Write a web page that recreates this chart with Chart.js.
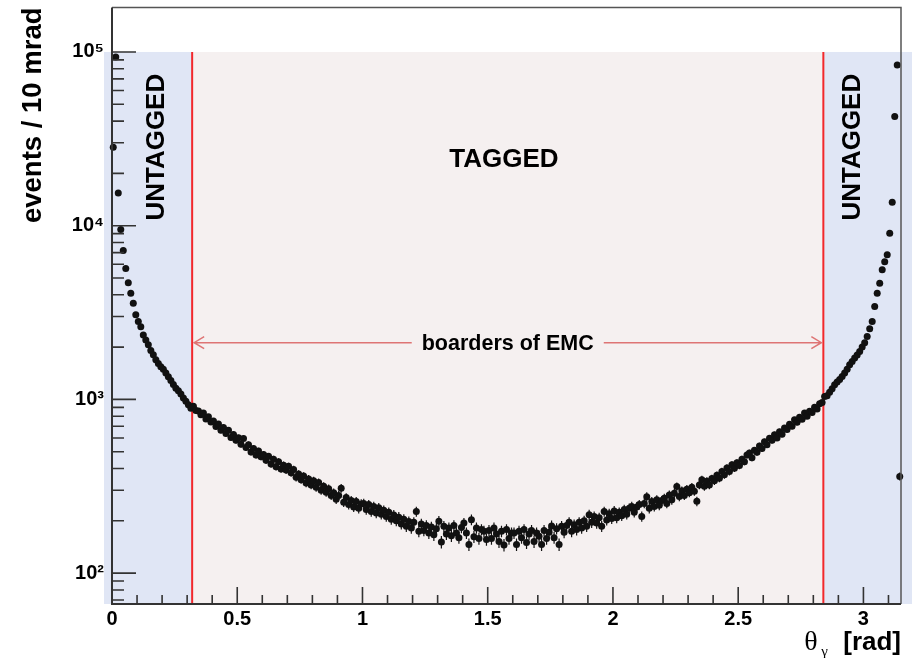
<!DOCTYPE html>
<html>
<head>
<meta charset="utf-8">
<title>events / 10 mrad</title>
<script src="https://cdn.jsdelivr.net/npm/chart.js@4.4.1/dist/chart.umd.min.js"></script>
<style>
    html, body { margin: 0; padding: 0; background: #fff; }
</style>
</head>
<body>
<canvas id="grafico" width="912" height="658"></canvas>
<script>
// larghezza del bin (10 mrad) e bordi del calorimetro EMC in rad
const binWidth = 0.01;
const borderLow = 0.32;
const borderHigh = 2.84;

// conteggi per bin (theta da 0.005 a 0.315)
const lowCounts = [
    28300, 93600, 15400, 9500, 7200, 5660, 4690, 4090, 3580, 3070,
    2810, 2620, 2350, 2200, 2060, 1910, 1805, 1690, 1610, 1540,
    1490, 1420, 1350, 1285, 1220, 1160, 1120, 1075, 1020, 975,
    930, 890
];

// theta da 0.325 a 2.835 (zona TAGGED)
const taggedCounts = [
    912, 862, 858, 815, 836, 770, 795, 740,
    752, 698, 722, 665, 690, 636, 664, 604, 628, 582,
    602, 552, 596, 528, 548, 498, 522, 478, 505, 468,
    482, 446, 470, 425, 452, 410, 438, 398, 418, 392,
    412, 378, 395, 356, 372, 345, 362, 330, 348, 322,
    340, 312, 332, 300, 316, 292, 306, 280, 290, 266,
    280, 308, 256, 272, 248, 262, 240, 258, 236, 250,
    252, 232, 248, 226, 242, 222, 238, 218, 230, 212,
    224, 204, 216, 200, 210, 192, 204, 186, 198, 182,
    196, 226, 174, 192, 176, 188, 170, 184, 166, 180,
    199, 151, 186, 168, 182, 164, 188, 170, 160, 183,
    194, 170, 146, 203, 162, 182, 158, 178, 174, 156,
    176, 158, 182, 168, 152, 174, 145, 178, 158, 170,
    170, 146, 174, 160, 178, 150, 168, 176, 152, 170,
    163, 146, 176, 158, 172, 187, 160, 180, 146, 186,
    172, 188, 196, 174, 190, 178, 196, 182, 200, 186,
    217, 196, 212, 194, 208, 186, 226, 202, 220, 206,
    228, 208, 224, 214, 232, 218, 236, 242, 224, 240,
    248, 212, 252, 275, 236, 258, 242, 264, 246, 262,
    270, 252, 282, 264, 288, 315, 276, 298, 280, 304,
    290, 312, 296, 259, 322, 345, 316, 338, 322, 350,
    340, 366, 352, 384, 368, 403, 384, 420, 402, 432,
    416, 452, 438, 478, 491, 462, 510, 496, 540, 522,
    570, 548, 598, 582, 626, 600, 652, 630, 684, 672,
    720, 700, 764, 738, 790, 768, 834, 800, 856, 840,
    900, 880, 944, 960
];

// theta da 2.845 a 3.145
const highCounts = [
    1040, 1050, 1100, 1150, 1214, 1260,
    1300, 1355, 1420, 1490, 1581, 1650, 1730, 1800, 1888, 2000,
    2120, 2300, 2550, 2810, 3425, 4090, 4670, 5575, 6200, 6800,
    9060, 13650, 42500, 84200, 360
];

// tick principali e relative etichette
const xTicks = [0, 0.5, 1, 1.5, 2, 2.5, 3];
const xTickLabels = ['0', '0.5', '1', '1.5', '2', '2.5', '3'];
const yTicks = [1e2, 1e3, 1e4, 1e5];
const yTickLabels = ['10\u00B2', '10\u00B3', '10\u2074', '10\u2075'];

const allCounts = lowCounts.concat(taggedCounts, highCounts);
const punti = allCounts.map((n, i) => ({ x: (i + 0.5) * binWidth, y: n }));

const SANS = '"Liberation Sans", Arial, Helvetica, sans-serif';
const SERIF = '"Liberation Serif", "Times New Roman", serif';

// sfondo colorato, linee rosse, scritte e freccia
const pluginSfondo = {
    id: 'sfondo',
    beforeDatasetsDraw(chart) {
        const { ctx, chartArea: area, scales: { x, y } } = chart;
        const top = y.getPixelForValue(1e5);
        const xl = x.getPixelForValue(borderLow);
        const xh = x.getPixelForValue(borderHigh);
        ctx.save();

        ctx.fillStyle = '#e0e6f5';
        ctx.fillRect(area.left - 8, top, xl - area.left + 8, area.bottom - top);
        ctx.fillRect(xh, top, chart.width - xh, area.bottom - top);
        ctx.fillStyle = '#f5f0f0';
        ctx.fillRect(xl, top, xh - xl, area.bottom - top);

        // bordi EMC
        ctx.strokeStyle = '#f2282c';
        ctx.lineWidth = 2;
        ctx.beginPath();
        ctx.moveTo(xl, top); ctx.lineTo(xl, area.bottom);
        ctx.moveTo(xh, top); ctx.lineTo(xh, area.bottom);
        ctx.stroke();

        // scritte
        ctx.fillStyle = '#000';
        ctx.font = 'bold 26px ' + SANS;
        ctx.textAlign = 'center';
        ctx.textBaseline = 'middle';
        ctx.fillText('TAGGED', x.getPixelForValue(1.565), y.getPixelForValue(23900));
        [0.178, 2.957].forEach(t => {
            ctx.save();
            ctx.translate(x.getPixelForValue(t), y.getPixelForValue(28300));
            ctx.rotate(-Math.PI / 2);
            ctx.fillText('UNTAGGED', 0, 0);
            ctx.restore();
        });

        // freccia "boarders of EMC"
        const ay = y.getPixelForValue(2120);
        const testo = 'boarders of EMC';
        ctx.font = 'bold 21.5px ' + SANS;
        const tw = ctx.measureText(testo).width;
        const cx = (xl + xh) / 2;
        ctx.fillText(testo, cx, ay + 1);
        ctx.strokeStyle = '#de7474';
        ctx.lineWidth = 1.5;
        ctx.beginPath();
        ctx.moveTo(xl + 2, ay); ctx.lineTo(cx - tw / 2 - 10, ay);
        ctx.moveTo(cx + tw / 2 + 10, ay); ctx.lineTo(xh - 2, ay);
        ctx.moveTo(xl + 12, ay - 6); ctx.lineTo(xl + 2, ay); ctx.lineTo(xl + 12, ay + 6);
        ctx.moveTo(xh - 12, ay - 6); ctx.lineTo(xh - 2, ay); ctx.lineTo(xh - 12, ay + 6);
        ctx.stroke();

        // barre d'errore statistiche
        ctx.strokeStyle = '#111';
        ctx.lineWidth = 1.2;
        ctx.beginPath();
        punti.forEach(p => {
            const px = x.getPixelForValue(p.x);
            const e = Math.sqrt(p.y);
            ctx.moveTo(px, y.getPixelForValue(p.y + e));
            ctx.lineTo(px, y.getPixelForValue(p.y - e));
        });
        ctx.stroke();
        ctx.restore();
    }
};

// cornice, tacche degli assi e titolo dell'asse x
const pluginCornice = {
    id: 'cornice',
    afterDraw(chart) {
        const { ctx, chartArea: area, scales: { x, y } } = chart;
        ctx.save();
        ctx.lineWidth = 1.5;
        ctx.strokeStyle = '#555';
        ctx.beginPath();
        ctx.moveTo(area.left, area.top);
        ctx.lineTo(area.right, area.top);
        ctx.lineTo(area.right, area.bottom);
        ctx.stroke();

        ctx.lineWidth = 2;
        ctx.strokeStyle = '#333';
        ctx.beginPath();
        ctx.moveTo(area.left, area.top);
        ctx.lineTo(area.left, area.bottom);
        ctx.lineTo(area.right, area.bottom);
        ctx.stroke();

        ctx.lineWidth = 1.6;
        ctx.beginPath();
        for (let d = 1; d <= 5; d++) {
            for (let m = 1; m <= 9; m++) {
                const v = m * Math.pow(10, d);
                if (v < y.min || v > y.max) continue;
                const py = y.getPixelForValue(v);
                ctx.moveTo(area.left, py);
                ctx.lineTo(area.left + (m === 1 ? 24 : 12), py);
            }
        }
        for (let k = 0; k <= 31; k++) {
            const v = k / 10;
            if (v > x.max) continue;
            const px = x.getPixelForValue(v);
            ctx.moveTo(px, area.bottom);
            ctx.lineTo(px, area.bottom - (k % 5 === 0 ? 17 : 9));
        }
        ctx.stroke();

        // titolo asse x: theta_gamma [rad]
        ctx.fillStyle = '#000';
        ctx.textBaseline = 'alphabetic';
        ctx.textAlign = 'right';
        ctx.font = 'bold 26px ' + SANS;
        ctx.fillText('[rad]', area.right, 650);
        const wr = ctx.measureText('[rad]').width;
        ctx.textAlign = 'left';
        ctx.font = '28px ' + SERIF;
        ctx.fillText('\u03B8', area.right - wr - 39, 650);
        ctx.font = '15px ' + SERIF;
        ctx.fillText('\u03B3', area.right - wr - 22, 656);
        ctx.restore();
    }
};

new Chart(document.getElementById('grafico').getContext('2d'), {
    type: 'scatter',
    data: {
        datasets: [{
            label: 'events',
            data: punti,
            backgroundColor: '#111',
            borderWidth: 0,
            pointRadius: 3.5,
            pointHoverRadius: 3.5,
            clip: false
        }]
    },
    options: {
        responsive: false,
        animation: false,
        events: [],
        layout: { padding: { left: 0, right: 11, top: 7.5, bottom: 0 } },
        plugins: {
            legend: { display: false },
            tooltip: { enabled: false }
        },
        scales: {
            x: {
                type: 'linear',
                min: 0,
                max: 3.15,
                grid: { display: false, drawTicks: false },
                border: { display: false },
                afterBuildTicks: s => { s.ticks = xTicks.map(v => ({ value: v })); },
                afterFit: s => { s.height = 54; s.paddingLeft = 0; s.paddingRight = 0; },
                ticks: {
                    autoSkip: false,
                    maxRotation: 0,
                    padding: 3,
                    color: '#000',
                    font: { size: 20, weight: 'bold', family: SANS },
                    callback: v => { const k = xTicks.indexOf(v); return k >= 0 ? xTickLabels[k] : ''; }
                }
            },
            y: {
                type: 'logarithmic',
                min: 66.4,
                max: 180300,
                grid: { display: false, drawTicks: false },
                border: { display: false },
                afterBuildTicks: s => { s.ticks = yTicks.map(v => ({ value: v })); },
                afterFit: s => { s.width = 112; s.paddingTop = 0; s.paddingBottom = 0; },
                ticks: {
                    autoSkip: false,
                    padding: 8,
                    color: '#000',
                    font: { size: 20, weight: 'bold', family: SANS },
                    callback: v => { const k = yTicks.indexOf(v); return k >= 0 ? yTickLabels[k] : ''; }
                },
                title: {
                    display: true,
                    text: 'events / 10 mrad',
                    align: 'end',
                    color: '#000',
                    font: { size: 27.5, weight: 'bold', family: SANS },
                    padding: { top: 17, bottom: 0 }
                }
            }
        }
    },
    plugins: [pluginSfondo, pluginCornice]
});
</script>
</body>
</html>
